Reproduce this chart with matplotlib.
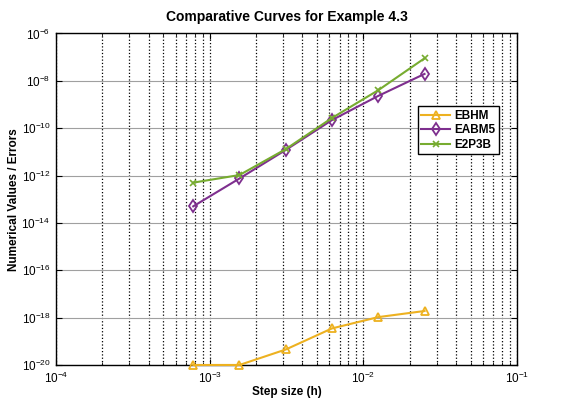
import matplotlib
matplotlib.use("Agg")
import math
import matplotlib.pyplot as plt
from matplotlib.ticker import LogLocator, FuncFormatter, NullFormatter, FixedLocator, NullLocator

plt.rcParams['font.family'] = ['Liberation Sans', 'DejaVu Sans']
plt.rcParams['mathtext.fontset'] = 'custom'
plt.rcParams['mathtext.rm'] = 'Liberation Sans'
plt.rcParams['mathtext.it'] = 'Liberation Sans'
plt.rcParams['mathtext.bf'] = 'Liberation Sans:bold'

step_sizes = [7.8125e-4, 1.5625e-3, 3.125e-3, 6.25e-3, 1.25e-2, 2.5e-2]
ebhm = [1.0e-20, 1.0e-20, 4.5e-20, 3.5e-19, 1.05e-18, 1.9e-18]
eabm5 = [5.0e-14, 7.5e-13, 1.2e-11, 2.2e-10, 2.3e-9, 1.95e-8]
e2p3b = [5.0e-13, 1.05e-12, 1.3e-11, 2.7e-10, 4.0e-9, 8.9e-8]
series_names = ["EBHM", "EABM5", "E2P3B"]
y_tick_exponents = [-20, -18, -16, -14, -12, -10, -8, -6]

fig = plt.figure(figsize=(5.62, 3.98), dpi=100)
ax = fig.add_axes([0.0997, 0.083, 0.8203, 0.833])

ax.plot(step_sizes, ebhm, color='#EDB120', marker='^', mfc='none', mew=1.3, ms=6, lw=1.5,
        label=series_names[0], clip_on=False, zorder=3)
ax.plot(step_sizes, eabm5, color='#7E2F8E', marker='d', mfc='none', mew=1.3, ms=6, lw=1.5,
        label=series_names[1], zorder=3)
ax.plot(step_sizes, e2p3b, color='#77AC30', marker='x', mew=1.2, ms=4, lw=1.5,
        label=series_names[2], zorder=3)

ax.set_xscale('log')
ax.set_yscale('log')
ax.set_xlim(1e-4, 1e-1)
ax.set_ylim(1e-20, 1e-6)

ax.xaxis.set_major_locator(LogLocator(base=10, numticks=10))
ax.xaxis.set_minor_locator(LogLocator(base=10, subs=range(2, 10), numticks=20))
ax.xaxis.set_minor_formatter(NullFormatter())
ax.yaxis.set_major_locator(FixedLocator([10.0 ** e for e in y_tick_exponents]))
ax.yaxis.set_minor_locator(NullLocator())

def fmt(v, pos):
    e = int(round(math.log10(v)))
    return r'$10^{%d}$' % e

ax.xaxis.set_major_formatter(FuncFormatter(fmt))
ax.yaxis.set_major_formatter(FuncFormatter(fmt))

ax.grid(True, which='major', axis='x', color='black', linestyle=':', linewidth=0.9)
ax.grid(True, which='minor', axis='x', color='black', linestyle=':', linewidth=0.9)
ax.grid(True, which='major', axis='y', color='#a0a0a0', linestyle='-', linewidth=0.8)

ax.tick_params(which='both', direction='in', top=True, right=True, labelsize=8.5)
ax.tick_params(which='major', length=4)
ax.tick_params(axis='x', which='major', pad=4)
ax.tick_params(axis='y', which='major', pad=4)
ax.tick_params(which='minor', length=2)
for s in ax.spines.values():
    s.set_linewidth(1.0)

ax.set_title('Comparative Curves for Example 4.3', fontsize=10, fontweight='bold', pad=9)
ax.set_xlabel('Step size (h)', fontsize=8.5, fontweight='bold', labelpad=0)
ax.set_ylabel('Numerical Values / Errors', fontsize=8.5, fontweight='bold', labelpad=1)

leg = ax.legend(loc='upper left', bbox_to_anchor=(0.785, 0.78),
                prop={'weight': 'bold', 'size': 8.5}, fancybox=False, framealpha=1,
                edgecolor='black', handlelength=2.4, borderpad=0.3, labelspacing=0.2,
                handletextpad=0.4, borderaxespad=0)
leg.get_frame().set_linewidth(1.0)

fig.savefig('out.png', dpi=100)
